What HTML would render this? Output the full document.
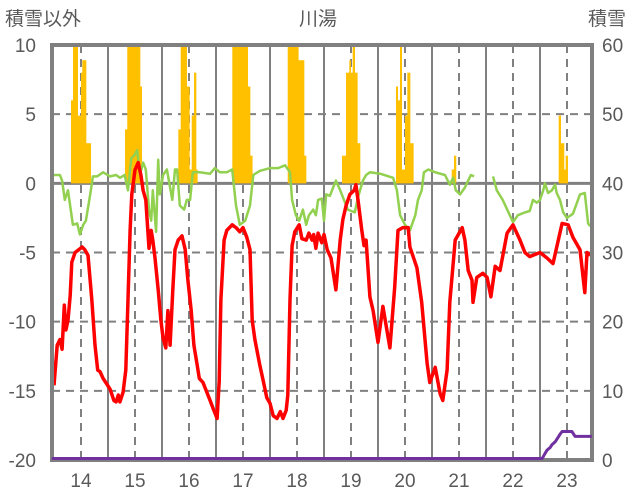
<!DOCTYPE html>
<html><head><meta charset="utf-8"><style>
html,body{margin:0;padding:0;background:#fff;}
svg{display:block;font-family:"Liberation Sans","Noto Sans CJK JP",sans-serif;}
</style></head><body>
<svg id="chart" width="636" height="501" viewBox="0 0 636 501" xmlns="http://www.w3.org/2000/svg">
<g id="grid"></g>
<g id="bars"></g>
<g id="lines"></g>
<g id="frame"></g>
<g id="top"></g>
<g id="labels"></g>
<text x="5" y="25" font-size="19" fill="#595959">積雪以外</text>
<text x="318" y="25" font-size="19" fill="#595959" text-anchor="middle">川湯</text>
<text x="588" y="25" font-size="19" fill="#595959">積雪</text>
</svg>
<script>
const yearTicks = [14,15,16,17,18,19,20,21,22,23];
const leftTicks = [10,5,0,-5,-10,-15,-20];
const rightTicks = [60,50,40,30,20,10,0];

const redT = [13.50,13.56,13.61,13.65,13.69,13.72,13.76,13.80,13.83,13.89,13.96,14.02,14.07,14.13,14.20,14.26,14.31,14.35,14.41,14.46,14.54,14.61,14.65,14.69,14.72,14.78,14.83,14.87,14.91,14.94,15.00,15.06,15.11,15.15,15.20,15.26,15.30,15.33,15.37,15.43,15.48,15.52,15.57,15.61,15.65,15.70,15.74,15.80,15.87,15.93,15.98,16.04,16.09,16.15,16.19,16.26,16.31,16.39,16.46,16.52,16.56,16.59,16.65,16.70,16.80,16.87,16.94,17.00,17.07,17.13,17.17,17.22,17.31,17.37,17.44,17.50,17.56,17.63,17.69,17.74,17.80,17.83,17.87,17.91,17.96,18.04,18.09,18.17,18.22,18.28,18.31,18.35,18.39,18.46,18.50,18.56,18.63,18.72,18.80,18.85,18.91,18.98,19.06,19.09,19.13,19.20,19.24,19.28,19.35,19.41,19.50,19.59,19.72,19.81,19.87,19.96,20.06,20.09,20.22,20.31,20.41,20.46,20.56,20.65,20.70,20.78,20.83,20.93,21.06,21.11,21.17,21.24,21.26,21.33,21.44,21.52,21.59,21.67,21.76,21.89,22.00,22.13,22.22,22.31,22.50,22.63,22.74,22.91,23.02,23.11,23.24,23.33,23.37,23.43];
const redV = [-14.6,-11.7,-11.3,-12.0,-8.8,-10.6,-9.9,-8.1,-5.7,-5.0,-4.8,-4.6,-4.8,-5.2,-8.4,-11.7,-13.5,-13.6,-14.1,-14.4,-14.9,-15.7,-15.8,-15.3,-15.8,-15.1,-13.5,-8.4,-3.4,-0.8,0.97,1.5,0.6,-0.5,-1.2,-4.7,-3.4,-4.1,-5.4,-7.7,-9.9,-11.2,-11.9,-9.2,-11.7,-7.7,-4.8,-4.1,-3.8,-4.8,-7.0,-9.2,-11.7,-13.1,-14.1,-14.4,-14.9,-15.7,-16.4,-17.0,-14.3,-8.4,-4.1,-3.4,-3.0,-3.2,-3.5,-3.2,-3.9,-4.8,-9.9,-11.3,-13.1,-14.2,-15.5,-15.9,-16.8,-17.0,-16.5,-17.0,-16.4,-15.3,-8.4,-4.5,-3.5,-3.0,-4.0,-4.1,-3.6,-4.1,-3.7,-4.7,-3.6,-4.3,-3.7,-4.8,-5.4,-7.7,-4.1,-2.6,-1.6,-0.8,-0.5,-0.1,-1.2,-3.4,-4.5,-4.1,-8.2,-9.2,-11.5,-8.9,-11.9,-7.5,-3.4,-3.2,-3.2,-4.6,-6.1,-8.6,-13.0,-14.4,-13.3,-15.2,-15.7,-13.5,-8.6,-4.1,-3.2,-4.1,-6.3,-7.0,-8.6,-6.8,-6.5,-6.8,-8.2,-6.0,-6.3,-3.6,-3.0,-4.1,-5.0,-5.3,-5.0,-5.4,-5.8,-2.9,-3.0,-3.9,-4.8,-7.9,-5.0,-5.2];

const greenT = [13.48,13.61,13.65,13.70,13.76,13.81,13.85,13.93,13.98,14.04,14.09,14.17,14.22,14.30,14.41,14.54,14.65,14.72,14.81,14.87,14.93,14.98,15.04,15.09,15.15,15.20,15.26,15.30,15.33,15.39,15.43,15.46,15.52,15.59,15.69,15.74,15.78,15.83,15.91,15.96,16.02,16.07,16.20,16.39,16.48,16.57,16.70,16.80,16.87,16.94,17.04,17.13,17.19,17.31,17.50,17.65,17.78,17.87,17.91,17.98,18.04,18.11,18.17,18.22,18.30,18.35,18.39,18.46,18.50,18.54,18.61,18.72,18.80,18.87,18.94,19.07,19.13,19.22,19.28,19.35,19.54,19.78,19.85,19.91,20.00,20.09,20.19,20.24,20.31,20.35,20.43,20.56,20.74,20.83,20.89,20.94,21.02,21.11,21.17,21.22,21.28,21.45,21.63,21.70,21.81,21.94,22.00,22.09,22.22,22.31,22.37,22.44,22.50,22.56,22.59,22.65,22.72,22.78,22.81,22.87,22.93,23.00,23.11,23.24,23.33,23.39,23.43];
const greenV = [0.6,0.6,0.2,-1.2,-0.5,-1.9,-3.0,-2.9,-3.7,-3.0,-2.7,-0.8,0.5,0.5,0.8,0.5,0.6,0.4,0.6,-0.5,1.8,2.0,2.4,0.6,1.5,1.0,-1.9,-2.7,-0.5,-3.5,1.7,-0.8,0.6,1.0,-1.2,1.0,1.0,-1.6,-1.9,-1.2,-1.2,0.8,0.8,0.7,1.1,0.8,0.8,1.0,-1.6,-3.0,-2.7,-1.6,0.6,0.9,1.1,1.1,1.3,0.8,-1.2,-2.3,-2.7,-1.9,-3.0,-2.3,-1.9,-2.3,-1.2,-1.1,-2.7,-0.8,-0.9,0.2,-0.5,-1.2,-1.9,-2.1,-1.0,0.2,0.6,0.8,0.7,0.4,-0.5,-2.3,-3.0,-3.4,-2.3,-1.2,-0.5,0.8,1.0,0.8,0.6,-0.1,0.4,-0.5,-0.8,-0.3,0.2,0.6,0.5,null,0.5,-0.5,-1.2,-2.3,-2.8,-2.3,-2.1,-2.0,-1.2,-1.4,-1.2,-0.5,0.0,-0.7,-0.5,-0.1,-0.7,-1.2,-2.1,-2.5,-2.2,-0.8,-0.7,-2.9,-3.1];

const purpleT = [13.46,22.54,22.59,22.63,22.69,22.72,22.78,22.83,22.87,22.91,23.09,23.15,23.46];
const purpleV = [0,0,0.7,1.2,1.6,2.0,2.4,3.0,3.5,3.9,3.9,3.2,3.2];

const barStart = [13.815,13.852,13.939,14.0,14.024,14.093, 14.815,14.857,15.093, 15.802,15.846,15.957,16.006,16.05,16.093,16.13, 16.802,17.087,17.13, 17.828,18.024,18.13, 18.833,18.907,18.969,18.994,19.031,19.069,19.117, 19.833,19.865,19.907,19.939,20.0,20.043,20.093, 20.865,20.907, 22.846,22.883,22.944,22.976];
const barEnd   = [13.852,13.939,14.0,14.024,14.093,14.18, 14.857,15.093,15.124, 15.846,15.957,16.006,16.05,16.093,16.13,16.154, 17.087,17.13,17.172, 18.024,18.13,18.167, 18.907,18.969,18.994,19.031,19.069,19.117,19.167, 19.865,19.907,19.939,20.0,20.043,20.093,20.154, 20.907,20.944, 22.883,22.944,22.976,23.013];
const barValue = [6.0,10,4.9,8.0,8.9,2.9, 3.9,10,7.0, 3.9,10,7.0,1.0,4.9,8.0,1.0, 10,7.0,2.0, 10,8.9,2.0, 2.0,8.0,8.9,8.0,10,8.0,2.9, 7.0,6.0,10,1.0,4.9,8.0,2.9, 1.0,2.0, 4.9,2.9,1.0,2.0];

const L=52,R=592,T=45,B=460;
const x = t => 81 + (t-14)*54;
const yL = v => T + (10-v)*(B-T)/30;
const yR = v => B - 1.5 - v*(B-T)/60;
const NS="http://www.w3.org/2000/svg";
function mk(tag, parent, attrs){const e=document.createElementNS(NS,tag);for(const k in attrs)e.setAttribute(k,attrs[k]);parent.appendChild(e);return e;}

const grid=document.getElementById('grid');
leftTicks.forEach(v=>{ if(v===10||v===-20) return;
  const g=mk('line',grid,{x1:L,x2:R,y1:yL(v),y2:yL(v),stroke:'#808080','stroke-width':v===0?3:2,'stroke-dasharray':v===0?'':'8,6'});
  
  
});
yearTicks.forEach(t=>{
  const d=mk('line',grid,{x1:x(t),x2:x(t),y1:T,y2:B,stroke:'#808080','stroke-width':2,'stroke-dasharray':'8,6'});
  
  
  if(t<23){
    const s=mk('line',grid,{x1:x(t+0.5),x2:x(t+0.5),y1:T,y2:B,stroke:'#808080','stroke-width':2});
    
    
  }
});

const bars=document.getElementById('bars');
barValue.forEach((v,i)=>{
  const vv=Math.min(v,10);
  const r=mk('rect',bars,{x:x(barStart[i]),width:x(barEnd[i])-x(barStart[i])+0.3,y:yL(vv),height:yL(0)-yL(vv),fill:'#FFC000'});
  
  
});

const lines=document.getElementById('lines');
function path(T_,V_,yf){let d='',pen=false;T_.forEach((t,i)=>{const v=V_[i];if(v===null){pen=false;return;}d+=(pen?'L':'M')+x(t).toFixed(1)+','+yf(v).toFixed(1);pen=true;});return d;}
const g1=mk('path',lines,{d:path(greenT,greenV,yL),fill:'none',stroke:'#92D050','stroke-width':2.5,'stroke-linejoin':'round'});


const r1=mk('path',lines,{d:path(redT,redV,yL),fill:'none',stroke:'#FF0000','stroke-width':3.5,'stroke-linejoin':'round'});



const frame=document.getElementById('frame');
const fr=mk('rect',frame,{x:L,y:T,width:R-L,height:B-T,fill:'none',stroke:'#808080','stroke-width':4});



const top_=document.getElementById('top');
const p1=mk('path',top_,{d:path(purpleT,purpleV,yR),fill:'none',stroke:'#7030A0','stroke-width':3,'stroke-linejoin':'round'});



const labels=document.getElementById('labels');
leftTicks.forEach(v=>{
  const e=mk('text',labels,{x:36,y:yL(v)+7,'font-size':19,fill:'#595959','text-anchor':'end'});
  e.textContent=v;
  
  
});
rightTicks.forEach(v=>{
  const e=mk('text',labels,{x:602,y:B-v*(B-T)/60+7,'font-size':19,fill:'#595959'});
  e.textContent=v;
  
  
});
yearTicks.forEach(t=>{
  const e=mk('text',labels,{x:x(t),y:487,'font-size':19,fill:'#595959','text-anchor':'middle'});
  e.textContent=t;
  
  
});
</script>
</body></html>
